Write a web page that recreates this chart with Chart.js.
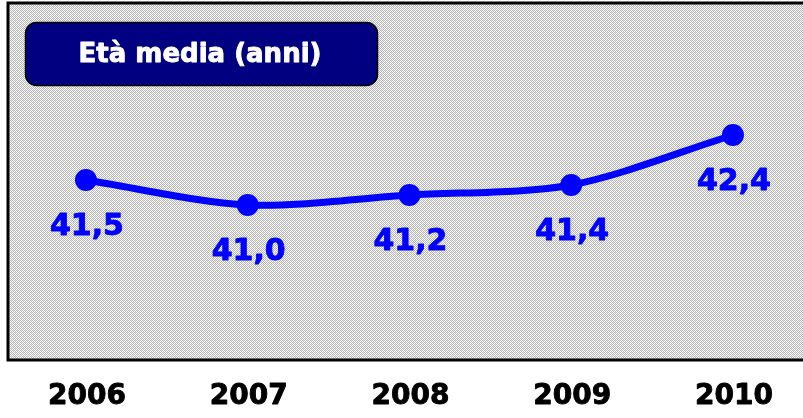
<!DOCTYPE html>
<html>
<head>
<meta charset="utf-8">
<script src="https://cdn.jsdelivr.net/npm/chart.js@4.4.1/dist/chart.umd.min.js"></script>
<style>
  html, body { margin: 0; padding: 0; background: #fff; }
  #wrap { width: 803px; height: 418px; position: relative; }
</style>
</head>
<body>
<div id="wrap"><canvas id="grafica" width="803" height="418"></canvas></div>
<script>
// dati
const anni = [2006, 2007, 2008, 2009, 2010];
const etaMedia = [41.5, 41.0, 41.2, 41.4, 42.4];
const etichette = ['41,5', '41,0', '41,2', '41,4', '42,4'];
const titolo = 'Età media (anni)';

const FONT = '"DejaVu Sans", Verdana, sans-serif';

// sfondo retinato grigio/bianco
function creaRetino(ctx) {
    const c = document.createElement('canvas');
    c.width = 4; c.height = 4;
    const g = c.getContext('2d');
    g.fillStyle = '#ffffff';
    g.fillRect(0, 0, 4, 4);
    g.fillStyle = '#b8b8b8';
    for (let y = 0; y < 4; y++) {
        for (let x = 0; x < 4; x++) {
            if ((x + y) % 2 === 0) g.fillRect(x, y, 1, 1);
        }
    }
    g.fillStyle = '#e6e6e6';
    g.fillRect(3, 0, 1, 1);
    g.fillRect(1, 2, 1, 1);
    return ctx.createPattern(c, 'repeat');
}

const sfondo = {
    id: 'sfondo',
    beforeDraw(chart) {
        const { ctx, chartArea: a } = chart;
        ctx.save();
        ctx.fillStyle = creaRetino(ctx);
        ctx.fillRect(a.left, a.top, a.right - a.left + 5, a.bottom - a.top);
        ctx.strokeStyle = '#000';
        ctx.lineWidth = 3;
        ctx.strokeRect(a.left, a.top, a.right - a.left + 10, a.bottom - a.top);
        ctx.restore();
    }
};

// testo in grassetto "pieno" (riempimento + contorno sottile)
function scriviPieno(ctx, testo, x, y, colore) {
    ctx.fillStyle = colore;
    ctx.strokeStyle = colore;
    ctx.lineWidth = 0.9;
    ctx.lineJoin = 'round';
    ctx.fillText(testo, x, y);
    ctx.strokeText(testo, x, y);
}

// riquadro titolo + etichette valori
const testi = {
    id: 'testi',
    afterDatasetsDraw(chart) {
        const { ctx } = chart;
        ctx.save();
        // riquadro blu scuro
        ctx.beginPath();
        ctx.roundRect(25.5, 22.5, 352, 63, 11);
        ctx.fillStyle = '#000080';
        ctx.fill();
        ctx.strokeStyle = '#000';
        ctx.lineWidth = 1.5;
        ctx.stroke();
        ctx.font = 'bold 26px ' + FONT;
        ctx.textAlign = 'center';
        ctx.textBaseline = 'middle';
        scriviPieno(ctx, titolo, 200, 55, '#fff');

        // etichette sotto i punti
        const meta = chart.getDatasetMeta(0);
        ctx.font = 'bold 30px ' + FONT;
        meta.data.forEach((p, i) => {
            scriviPieno(ctx, etichette[i], p.x + 1, p.y + 47, '#0000ff');
        });

        // anni sotto l'area del grafico
        const xs = chart.scales.x;
        ctx.font = 'bold 28px ' + FONT;
        anni.forEach(a => {
            scriviPieno(ctx, String(a), xs.getPixelForValue(a) + 1, chart.chartArea.bottom + 37, '#000');
        });
        ctx.restore();
    }
};

const ctx = document.getElementById('grafica').getContext('2d');

new Chart(ctx, {
    type: 'line',
    data: {
        datasets: [{
            data: anni.map((a, i) => ({ x: a, y: etaMedia[i] })),
            borderColor: '#0000ff',
            backgroundColor: '#0000ff',
            borderWidth: 7,
            pointRadius: 11,
            pointBackgroundColor: '#0000ff',
            pointBorderWidth: 0,
            tension: 0.3,
            fill: false
        }]
    },
    options: {
        responsive: false,
        animation: false,
        events: [],
        layout: { autoPadding: false, padding: { left: 8, top: 3, right: 0, bottom: 0 } },
        plugins: {
            legend: { display: false },
            tooltip: { enabled: false }
        },
        scales: {
            x: {
                type: 'linear',
                min: 2005.518,
                max: 2010.433,
                grid: { display: false },
                border: { display: false },
                ticks: { display: false },
                afterFit: scale => {
                    scale.height = 58;
                    scale.paddingLeft = 0;
                    scale.paddingRight = 0;
                }
            },
            y: {
                display: false,
                min: 37.9,
                max: 45.04
            }
        }
    },
    plugins: [sfondo, testi]
});
</script>
</body>
</html>
